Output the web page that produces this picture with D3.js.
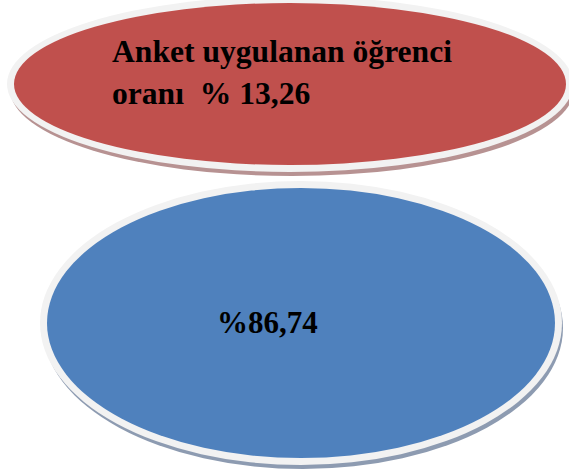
<!DOCTYPE html>
<html>
<head>
<meta charset="utf-8">
<script src="https://cdn.jsdelivr.net/npm/d3@7"></script>
<style>
	body { margin: 0; background: #fff; }
	svg { display: block; }
</style>
</head>
<body>
<svg id="chart"></svg>
<script>
// data
const groups = ['anket', 'diger'];
const values = [13.26, 86.74];
const labelPrefixes = ['Anket uygulanan öğrenci|oranı  % ', '%'];
const fillColors = ['#c0504d', '#4f81bd'];
const shadowColors = ['#b79292', '#8d9bb1'];

const width = 569;
const height = 475;

// turkish number format, comma as decimal mark
const trLocale = d3.formatLocale({ decimal: ',', thousands: '.', grouping: [3], currency: ['', ' TL'] });
const fmt = trLocale.format('.2f');

// ellipse layout (center + radii of the coloured face)
const layout = {
	anket: { cx: 290, cy: 84, rx: 276, ry: 81, textX: 112, textY: 62, lineGap: 42, size: 31.6 },
	diger: { cx: 301, cy: 323, rx: 254, ry: 135, textX: 217, textY: 333, lineGap: 0, size: 31 }
};

const color = d3.scaleOrdinal().domain(groups).range(fillColors);
const shadow = d3.scaleOrdinal().domain(groups).range(shadowColors);

const svg = d3.select('#chart').attr('width', width).attr('height', height);

const items = groups.map((g, i) => ({ key: g, value: values[i], prefix: labelPrefixes[i] }));

const shape = svg
	.selectAll('g.shape')
	.data(items)
	.enter()
	.append('g')
	.attr('class', 'shape');

// shadow below the rim
shape
	.append('ellipse')
	.attr('cx', (d) => layout[d.key].cx + 2)
	.attr('cy', (d) => layout[d.key].cy + 5)
	.attr('rx', (d) => layout[d.key].rx + 6)
	.attr('ry', (d) => layout[d.key].ry + 6)
	.attr('fill', (d) => shadow(d.key));

// light grey rim
shape
	.append('ellipse')
	.attr('cx', (d) => layout[d.key].cx)
	.attr('cy', (d) => layout[d.key].cy)
	.attr('rx', (d) => layout[d.key].rx + 7)
	.attr('ry', (d) => layout[d.key].ry + 7)
	.attr('fill', '#f2f2f2');

shape
	.append('ellipse')
	.attr('cx', (d) => layout[d.key].cx)
	.attr('cy', (d) => layout[d.key].cy)
	.attr('rx', (d) => layout[d.key].rx)
	.attr('ry', (d) => layout[d.key].ry)
	.attr('fill', (d) => color(d.key));

const label = shape
	.append('text')
	.attr('x', (d) => layout[d.key].textX)
	.attr('y', (d) => layout[d.key].textY)
	.attr('font-family', "'Liberation Serif', 'Times New Roman', serif")
	.attr('font-weight', 'bold')
	.attr('font-size', (d) => layout[d.key].size)
	.attr('xml:space', 'preserve')
	.attr('fill', '#000');

label
	.selectAll('tspan')
	.data((d) => {
		const lines = (d.prefix + fmt(d.value)).split('|');
		return lines.map((t, i) => ({ t, i, key: d.key }));
	})
	.enter()
	.append('tspan')
	.attr('x', (d) => layout[d.key].textX)
	.attr('dy', (d) => (d.i === 0 ? 0 : layout[d.key].lineGap))
	.text((d) => d.t.replace(/  /g, ' \u00a0'));
</script>
</body>
</html>
